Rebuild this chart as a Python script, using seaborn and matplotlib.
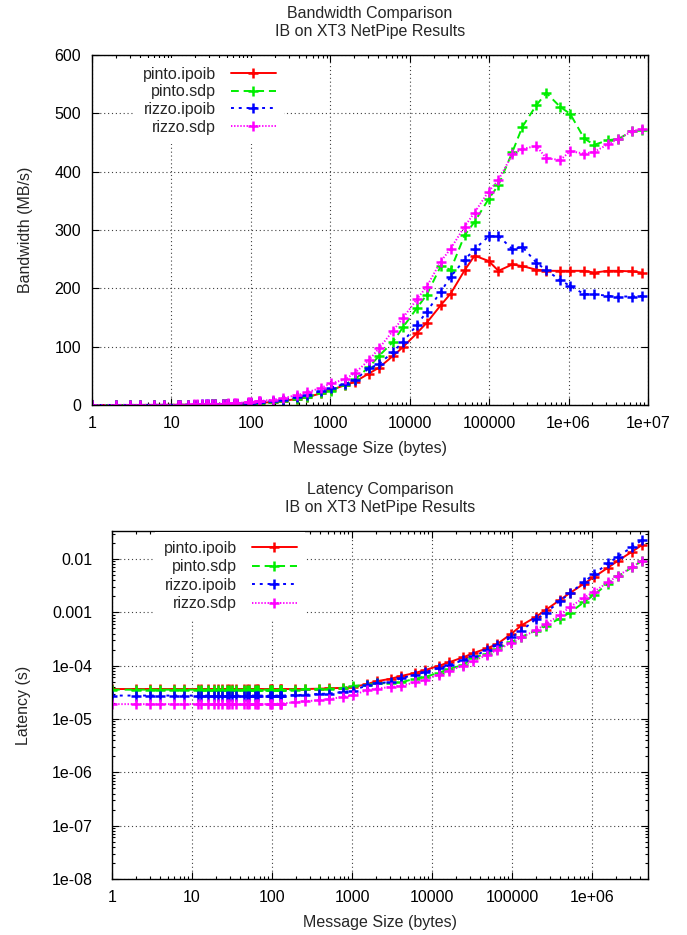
import matplotlib
matplotlib.use("Agg")
import matplotlib.pyplot as plt
import seaborn as sns
from matplotlib.ticker import FixedLocator, FixedFormatter, LogLocator, NullFormatter, NullLocator

sns.set_style("ticks")
plt.rcParams["font.family"] = ["Liberation Sans", "DejaVu Sans"]

# NetPipe message sizes (bytes)
sizes = [1, 2, 3, 4, 6, 8, 12, 13, 16, 19, 21, 24, 27, 29, 32, 35, 45, 48, 51, 61,
         64, 67, 93, 96, 99, 125, 128, 131, 192, 256, 384, 512, 768, 1024, 1536, 2048,
         3072, 4096, 6144, 8192, 12288, 16384, 24576, 32768, 49152, 65536, 98304,
         131072, 196608, 262144, 393216, 524288, 786432, 1048576, 1572864, 2097152,
         3145728, 4194304, 6291456, 8388608]
lat_sizes = sizes[:58]

# Bandwidth (MB/s)
bw_pinto_ipoib = [0.027, 0.055, 0.082, 0.11, 0.16, 0.22, 0.33, 0.36, 0.44, 0.52, 0.58, 0.66,
                  0.74, 0.79, 0.88, 0.96, 1.23, 1.32, 1.40, 1.67, 1.75, 1.84, 2.55, 2.63,
                  2.71, 3.42, 3.51, 3.59, 5.26, 7.01, 10.4, 13.7, 19.9,
                  26, 34, 40, 54, 64, 84, 99, 123, 141, 171, 191, 231, 256, 247, 230, 241,
                  238, 232, 230, 230, 230, 230, 227, 230, 230, 229, 227]
bw_pinto_sdp = [0.028, 0.056, 0.085, 0.11, 0.17, 0.23, 0.34, 0.37, 0.45, 0.54, 0.59, 0.68,
                0.76, 0.82, 0.90, 0.99, 1.27, 1.35, 1.44, 1.72, 1.80, 1.89, 2.62, 2.70,
                2.79, 3.52, 3.61, 3.69, 5.38, 7.11, 10.5, 13.8, 20.2,
                24.5, 35, 44, 65, 84, 108, 133, 166, 189, 238, 232, 291, 314, 353, 377,
                434, 477, 514, 535, 511, 499, 457, 446, 454, 456, 469, 471]
bw_rizzo_ipoib = [0.036, 0.073, 0.11, 0.15, 0.22, 0.29, 0.44, 0.47, 0.58, 0.69, 0.76, 0.87,
                  0.98, 1.05, 1.16, 1.27, 1.64, 1.75, 1.85, 2.22, 2.33, 2.44, 3.38, 3.49,
                  3.60, 4.55, 4.65, 4.76, 6.86, 8.98, 13.0, 17.1, 24.0,
                  30, 36, 43, 63, 70, 91, 108, 137, 160, 194, 220, 249, 267, 289, 290, 267,
                  271, 244, 231, 214, 204, 190, 190, 187, 186, 186, 187]
bw_rizzo_sdp = [0.053, 0.105, 0.158, 0.21, 0.32, 0.42, 0.63, 0.68, 0.84, 1.0, 1.11, 1.26,
                1.42, 1.53, 1.68, 1.84, 2.37, 2.53, 2.68, 3.21, 3.37, 3.53, 4.89, 5.05,
                5.21, 6.41, 6.56, 6.72, 9.37, 11.9, 17.1, 21.8, 29.5,
                37, 44, 55, 77, 97, 127, 149, 181, 203, 246, 268, 306, 330, 366, 386, 430,
                439, 444, 423, 420, 435, 431, 434, 447, 456, 469, 474]

# Latency (s)
lat_pinto_ipoib = [3.65e-5, 3.65e-5, 3.65e-5, 3.65e-5, 3.65e-5, 3.65e-5, 3.65e-5, 3.65e-5,
                   3.65e-5, 3.65e-5, 3.65e-5, 3.65e-5, 3.65e-5, 3.65e-5, 3.65e-5, 3.65e-5,
                   3.65e-5, 3.65e-5, 3.65e-5, 3.65e-5, 3.65e-5, 3.65e-5, 3.65e-5, 3.65e-5,
                   3.65e-5, 3.65e-5, 3.65e-5, 3.65e-5, 3.65e-5, 3.65e-5, 3.7e-5, 3.75e-5,
                   3.85e-5, 3.94e-5, 4.52e-5, 5.12e-5, 5.69e-5, 6.4e-5, 7.31e-5, 8.27e-5,
                   9.99e-5, 1.162e-4, 1.437e-4, 1.716e-4, 2.128e-4, 2.56e-4, 3.98e-4,
                   5.70e-4, 8.16e-4, 1.101e-3, 1.695e-3, 2.28e-3, 3.42e-3, 4.56e-3,
                   6.84e-3, 9.24e-3, 1.368e-2, 1.824e-2]
lat_pinto_sdp = [3.55e-5, 3.55e-5, 3.55e-5, 3.55e-5, 3.55e-5, 3.55e-5, 3.55e-5, 3.55e-5,
                 3.55e-5, 3.55e-5, 3.55e-5, 3.55e-5, 3.55e-5, 3.55e-5, 3.55e-5, 3.55e-5,
                 3.55e-5, 3.55e-5, 3.55e-5, 3.55e-5, 3.55e-5, 3.55e-5, 3.55e-5, 3.55e-5,
                 3.55e-5, 3.55e-5, 3.55e-5, 3.55e-5, 3.57e-5, 3.6e-5, 3.65e-5, 3.7e-5,
                 3.8e-5, 4.18e-5, 4.39e-5, 4.65e-5, 4.73e-5, 4.88e-5, 5.69e-5, 6.16e-5,
                 7.40e-5, 8.67e-5, 1.033e-4, 1.412e-4, 1.689e-4, 2.087e-4, 2.785e-4,
                 3.477e-4, 4.53e-4, 5.50e-4, 7.65e-4, 9.80e-4, 1.539e-3, 2.101e-3,
                 3.442e-3, 4.702e-3, 6.929e-3, 9.198e-3]
lat_rizzo_ipoib = [2.75e-5, 2.75e-5, 2.75e-5, 2.75e-5, 2.75e-5, 2.75e-5, 2.75e-5, 2.75e-5,
                   2.75e-5, 2.75e-5, 2.75e-5, 2.75e-5, 2.75e-5, 2.75e-5, 2.75e-5, 2.75e-5,
                   2.75e-5, 2.75e-5, 2.75e-5, 2.75e-5, 2.75e-5, 2.75e-5, 2.75e-5, 2.75e-5,
                   2.75e-5, 2.75e-5, 2.75e-5, 2.75e-5, 2.8e-5, 2.85e-5, 2.95e-5, 3.0e-5,
                   3.2e-5, 3.41e-5, 4.27e-5, 4.76e-5, 4.88e-5, 5.85e-5, 6.75e-5, 7.59e-5,
                   8.97e-5, 1.024e-4, 1.267e-4, 1.489e-4, 1.974e-4, 2.455e-4, 3.402e-4,
                   4.52e-4, 7.36e-4, 9.67e-4, 1.612e-3, 2.270e-3, 3.675e-3, 5.14e-3,
                   8.28e-3, 1.104e-2, 1.682e-2, 2.255e-2]
lat_rizzo_sdp = [1.9e-5, 1.9e-5, 1.9e-5, 1.9e-5, 1.9e-5, 1.9e-5, 1.9e-5, 1.9e-5,
                 1.9e-5, 1.9e-5, 1.9e-5, 1.9e-5, 1.9e-5, 1.9e-5, 1.9e-5, 1.9e-5,
                 1.9e-5, 1.9e-5, 1.9e-5, 1.9e-5, 1.9e-5, 1.9e-5, 1.9e-5, 1.9e-5,
                 1.9e-5, 1.95e-5, 1.95e-5, 1.95e-5, 2.05e-5, 2.15e-5, 2.25e-5, 2.35e-5,
                 2.6e-5, 2.77e-5, 3.49e-5, 3.72e-5, 3.99e-5, 4.22e-5, 4.84e-5, 5.50e-5,
                 6.79e-5, 8.07e-5, 9.99e-5, 1.223e-4, 1.606e-4, 1.986e-4, 2.686e-4,
                 3.396e-4, 4.572e-4, 5.971e-4, 8.856e-4, 1.239e-3, 1.872e-3, 2.411e-3,
                 3.649e-3, 4.832e-3, 7.037e-3, 9.198e-3]

series_names = ["pinto.ipoib", "pinto.sdp", "rizzo.ipoib", "rizzo.sdp"]
bw_series = [bw_pinto_ipoib, bw_pinto_sdp, bw_rizzo_ipoib, bw_rizzo_sdp]
lat_series = [lat_pinto_ipoib, lat_pinto_sdp, lat_rizzo_ipoib, lat_rizzo_sdp]

bw_xticks = [1, 10, 100, 1000, 10000, 100000, 1e6, 1e7]
bw_xlabels = ["1", "10", "100", "1000", "10000", "100000", "1e+06", "1e+07"]
bw_yticks = [0, 100, 200, 300, 400, 500, 600]
lat_xticks = [1, 10, 100, 1000, 10000, 100000, 1e6]
lat_xlabels = ["1", "10", "100", "1000", "10000", "100000", "1e+06"]
lat_yticks = [1e-8, 1e-7, 1e-6, 1e-5, 1e-4, 1e-3, 1e-2]
lat_ylabels = ["1e-08", "1e-07", "1e-06", "1e-05", "1e-04", "0.001", "0.01"]

colors = ["#ff0000", "#00ee00", "#0000ff", "#ff00ff"]
dashes = ["-", (0, (4, 2.5)), (0, (1.5, 2.5)), (0, (0.7, 0.9))]
FS = 11.5

fig = plt.figure(figsize=(6.87, 9.35), dpi=100)
ax1 = fig.add_axes([92 / 687, 1 - 405 / 935, 556 / 687, 350 / 935])
ax2 = fig.add_axes([112 / 687, 1 - 879 / 935, 536 / 687, 348 / 935])


def draw(ax, xs, ys_list):
    for name, ys, c, ls in zip(series_names, ys_list, colors, dashes):
        sns.lineplot(x=xs, y=ys, ax=ax, color=c, linestyle=ls, linewidth=1.4,
                     marker="+", markersize=7.5, markeredgewidth=1.8,
                     markeredgecolor=c, markerfacecolor=c,
                     label=name, estimator=None, sort=False)


def style(ax, ypad):
    ax.set_xscale("log")
    ax.grid(True, which="major", color="0.25", linestyle=(0, (1, 2.5)), linewidth=0.8)
    ax.tick_params(which="both", direction="in", top=True, right=True,
                   labelsize=FS, width=0.8, colors="black")
    ax.tick_params(which="major", length=5)
    ax.tick_params(which="minor", length=2.5)
    ax.tick_params(axis="x", pad=8)
    ax.tick_params(axis="y", pad=ypad)
    for sp in ax.spines.values():
        sp.set_color("black")
        sp.set_linewidth(1.0)
    ax.xaxis.set_minor_locator(LogLocator(base=10, subs=(2, 3, 4, 5, 6, 7, 8, 9)))
    ax.xaxis.set_minor_formatter(NullFormatter())


def legend(ax, x0, y0, spacing):
    # text on the left, right-aligned, line sample on the right (gnuplot style)
    return ax.legend(loc="upper left", bbox_to_anchor=(x0, y0), frameon=True,
                     facecolor="white", edgecolor="none", framealpha=1, fancybox=False,
                     fontsize=FS, markerfirst=False, handlelength=2.8,
                     handletextpad=0.95, labelspacing=spacing, borderpad=0.55,
                     borderaxespad=0.0)


# Bandwidth panel
draw(ax1, sizes, bw_series)
style(ax1, 8)
ax1.set_xlim(1, 1e7)
ax1.set_ylim(0, 600)
ax1.xaxis.set_major_locator(FixedLocator(bw_xticks))
ax1.xaxis.set_major_formatter(FixedFormatter(bw_xlabels))
ax1.yaxis.set_major_locator(FixedLocator(bw_yticks))
ax1.yaxis.set_minor_locator(NullLocator())
ax1.set_xlabel("Message Size (bytes)", fontsize=FS, labelpad=7)
ax1.set_ylabel("Bandwidth (MB/s)", fontsize=FS, labelpad=15)
ax1.set_title("Bandwidth Comparison\nIB on XT3 NetPipe Results", fontsize=FS,
              linespacing=1.2, pad=14)
legend(ax1, 0.075, 0.992, 0.17)

# Latency panel
draw(ax2, lat_sizes, lat_series)
style(ax2, 14)
ax2.set_yscale("log")
ax2.set_xlim(1, 5e6)
ax2.set_ylim(1e-8, 0.0335)
ax2.xaxis.set_major_locator(FixedLocator(lat_xticks))
ax2.xaxis.set_major_formatter(FixedFormatter(lat_xlabels))
ax2.yaxis.set_major_locator(FixedLocator(lat_yticks))
ax2.yaxis.set_minor_locator(LogLocator(base=10, subs=(2, 3, 4, 5, 6, 7, 8, 9)))
ax2.yaxis.set_major_formatter(FixedFormatter(lat_ylabels))
ax2.yaxis.set_minor_formatter(NullFormatter())
ax2.set_xlabel("Message Size (bytes)", fontsize=FS, labelpad=7)
ax2.set_ylabel("Latency (s)", fontsize=FS, labelpad=15)
ax2.set_title("Latency Comparison\nIB on XT3 NetPipe Results", fontsize=FS,
              linespacing=1.2, pad=14)
legend(ax2, 0.08, 0.997, 0.22)

fig.savefig("out.png", dpi=100)
